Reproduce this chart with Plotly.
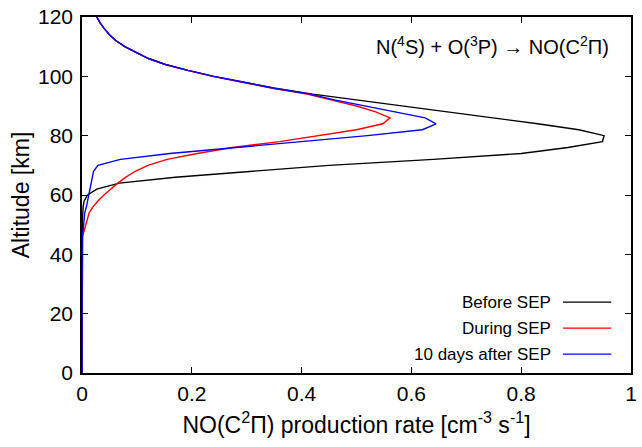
import plotly.graph_objects as go

# ---------------- data ----------------
alt_before = [0, 44, 46, 48, 50, 52, 54, 56, 58, 60, 62, 64, 66, 68, 70, 72, 74, 76, 78, 80,
              82, 84, 86, 88, 90, 92, 94, 96, 98, 100, 102, 104, 106, 108, 110, 112, 114, 116, 118, 120]
val_before = [0, 0, 0.0002, 0.0004, 0.0006, 0.001, 0.0015, 0.002, 0.004, 0.01, 0.027, 0.068, 0.17,
              0.31, 0.45, 0.64, 0.80, 0.885, 0.948, 0.951, 0.905, 0.83, 0.75, 0.665, 0.58, 0.50,
              0.42, 0.352, 0.296, 0.24, 0.193, 0.152, 0.121, 0.098, 0.078, 0.062, 0.05, 0.041, 0.033, 0.027]

alt_during = [0, 44, 46, 48, 50, 52, 54, 56, 58, 60, 62, 64, 66, 68, 70, 72, 74, 76, 78, 80,
              82, 84, 86, 88, 90, 92, 94, 96, 98, 100, 102, 104, 106, 108, 110, 112, 114, 116, 118, 120]
val_during = [0, 0, 0.001, 0.004, 0.007, 0.01, 0.013, 0.02, 0.029, 0.04, 0.052, 0.065, 0.08,
              0.097, 0.12, 0.155, 0.21, 0.274, 0.36, 0.434, 0.50, 0.548, 0.561, 0.535, 0.50, 0.455,
              0.41, 0.347, 0.293, 0.238, 0.192, 0.152, 0.121, 0.098, 0.078, 0.062, 0.05, 0.041, 0.033, 0.027]

alt_after = [0, 44, 46, 48, 50, 52, 54, 56, 58, 60, 62, 64, 66, 68, 70, 72, 74, 76, 78, 80,
             82, 84, 86, 88, 90, 92, 94, 96, 98, 100, 102, 104, 106, 108, 110, 112, 114, 116, 118, 120]
val_after = [0, 0, 0.0005, 0.002, 0.003, 0.004, 0.005, 0.008, 0.01, 0.013, 0.015, 0.017, 0.019,
             0.021, 0.029, 0.07, 0.16, 0.28, 0.39, 0.52, 0.62, 0.645, 0.625, 0.57, 0.51, 0.462,
             0.415, 0.35, 0.295, 0.24, 0.193, 0.152, 0.121, 0.098, 0.078, 0.062, 0.05, 0.041, 0.033, 0.027]

series_names = ["Before SEP", "During SEP", "10 days after SEP"]
series_colors = ["#000000", "#ff0000", "#0000ff"]

x_tickvals = [0, 0.2, 0.4, 0.6, 0.8, 1]
x_ticktext = ["0", "0.2", "0.4", "0.6", "0.8", "1"]
y_tickvals = [0, 20, 40, 60, 80, 100, 120]

FONT = "Liberation Sans, Arial, Helvetica, sans-serif"

fig = go.Figure()
for alts, vals, name, col in zip([alt_before, alt_during, alt_after],
                                 [val_before, val_during, val_after],
                                 series_names, series_colors):
    fig.add_trace(go.Scatter(x=vals, y=alts, mode="lines", name=name,
                             line=dict(color=col, width=1.4), showlegend=False))

# custom gnuplot-style legend (text right-aligned, line sample on the right)
leg_y = [0.199, 0.126, 0.053]
for name, col, yy in zip(series_names, series_colors, leg_y):
    fig.add_annotation(x=0.858, y=yy, xref="paper", yref="paper", text=name,
                       showarrow=False, xanchor="right", yanchor="middle",
                       font=dict(family=FONT, size=17, color="black"))
    fig.add_shape(type="line", xref="paper", yref="paper", x0=0.876, x1=0.964,
                  y0=yy, y1=yy, line=dict(color=col, width=1.4))

fig.add_annotation(x=0.964, y=0.921, xref="paper", yref="paper",
                   text="N(<sup>4</sup>S) + O(<sup>3</sup>P) → NO(C<sup>2</sup>Π)",
                   showarrow=False, xanchor="right", yanchor="middle",
                   font=dict(family=FONT, size=20, color="black"))

axis_common = dict(showline=True, linecolor="black", linewidth=1.5, mirror="allticks",
                   ticks="inside", ticklen=6, tickwidth=1, tickcolor="black",
                   showgrid=False, zeroline=False,
                   tickfont=dict(family=FONT, size=21, color="black"))

fig.update_xaxes(range=[0, 1], tickvals=x_tickvals, ticktext=x_ticktext,
                 title=dict(text="NO(C<sup>2</sup>Π) production rate [cm<sup>-3</sup> s<sup>-1</sup>]",
                            font=dict(family=FONT, size=23, color="black"), standoff=13),
                 ticklabelstandoff=1, **axis_common)
fig.update_yaxes(range=[0, 120], tickvals=y_tickvals,
                 title=dict(text="Altitude [km]", font=dict(family=FONT, size=23, color="black"),
                            standoff=2),
                 ticklabelstandoff=3, **axis_common)

fig.update_layout(width=642, height=447, margin=dict(l=82, r=5, t=17, b=74),
                  paper_bgcolor="white", plot_bgcolor="white", showlegend=False)

fig.write_html("out.html")
